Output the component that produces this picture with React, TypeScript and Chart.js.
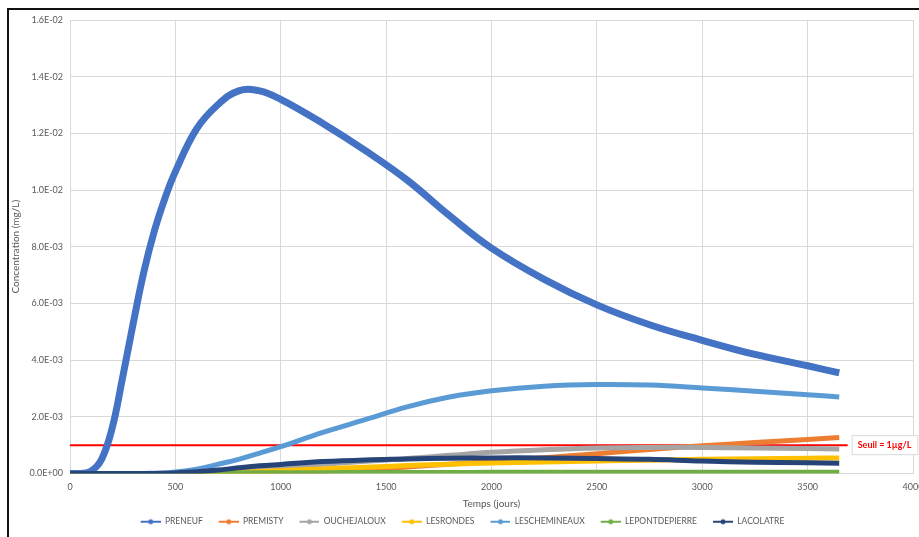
import React, { useEffect, useRef } from 'react';
import { Chart, registerables } from 'chart.js';
Chart.register(...registerables);

// Time axis (days)
const DAYS = [0, 50, 100, 150, 200, 250, 300, 350, 400, 450, 500, 600, 700, 800, 900, 1000, 1200, 1400, 1600, 1800, 2000, 2250, 2500, 2750, 3000, 3250, 3500, 3650];

// Concentrations in µg/L (i.e. ×1e-3 mg/L)
const PRENEUF = [0, 0, 0.08, 0.5, 1.6, 3.4, 5.3, 7.1, 8.55, 9.7, 10.65, 12.15, 13.0, 13.5, 13.5, 13.2, 12.35, 11.4, 10.35, 9.1, 7.95, 6.85, 5.95, 5.25, 4.7, 4.2, 3.8, 3.55];
const PREMISTY = [0, 0, 0, 0, 0, 0, 0, 0, 0, 0, 0, 0, 0.005, 0.01, 0.02, 0.03, 0.08, 0.15, 0.23, 0.33, 0.43, 0.56, 0.7, 0.85, 0.98, 1.09, 1.2, 1.27];
const OUCHEJALOUX = [0, 0, 0, 0, 0, 0, 0, 0, 0, 0, 0, 0.01, 0.04, 0.1, 0.16, 0.22, 0.33, 0.43, 0.53, 0.64, 0.75, 0.84, 0.9, 0.92, 0.92, 0.9, 0.88, 0.86];
const LESRONDES = [0, 0, 0, 0, 0, 0, 0, 0, 0, 0, 0, 0.005, 0.02, 0.04, 0.07, 0.1, 0.16, 0.22, 0.28, 0.33, 0.37, 0.41, 0.44, 0.47, 0.5, 0.52, 0.54, 0.55];
const LESCHEMINEAUX = [0, 0, 0, 0, 0, 0, 0, 0, 0.01, 0.02, 0.05, 0.15, 0.32, 0.5, 0.72, 0.95, 1.45, 1.9, 2.35, 2.7, 2.92, 3.08, 3.14, 3.12, 3.02, 2.9, 2.78, 2.7];
const LEPONTDEPIERRE = [0, 0, 0, 0, 0, 0, 0, 0, 0, 0, 0, 0.01, 0.015, 0.02, 0.025, 0.03, 0.03, 0.035, 0.035, 0.035, 0.04, 0.04, 0.04, 0.04, 0.04, 0.04, 0.04, 0.04];
const LACOLATRE = [0, 0, 0, 0, 0, 0, 0, 0, 0, 0.01, 0.02, 0.06, 0.12, 0.2, 0.27, 0.32, 0.42, 0.48, 0.51, 0.54, 0.55, 0.55, 0.53, 0.5, 0.44, 0.4, 0.38, 0.36];

const UNIT = 1e-3;
const SERIES_NAMES = ['PRENEUF', 'PREMISTY', 'OUCHEJALOUX', 'LESRONDES', 'LESCHEMINEAUX', 'LEPONTDEPIERRE', 'LACOLATRE'];
const SERIES_VALUES = [PRENEUF, PREMISTY, OUCHEJALOUX, LESRONDES, LESCHEMINEAUX, LEPONTDEPIERRE, LACOLATRE];
const SERIES_COLORS = ['#4472C4', '#ED7D31', '#A5A5A5', '#FFC000', '#5B9BD5', '#70AD47', '#264478'];
const SERIES_WIDTHS = [7, 5, 5, 5, 5, 5, 5];

const SEUIL = 1e-3;
const SEUIL_X = [0, 3690];
const SEUIL_LABEL = 'Seuil = 1µg/L';

const X_TITLE = 'Temps (jours)';
const Y_TITLE = 'Concentration (mg/L)';

const FONT = 'Lato';
const TEXT_COLOR = '#595959';
const GRID_COLOR = '#d9d9d9';

function sci(v: number): string {
  if (Math.abs(v) < 1e-12) return '0.0E+00';
  const e = Math.floor(Math.log10(Math.abs(v)) + 1e-9);
  const m = v / Math.pow(10, e);
  return m.toFixed(1) + 'E' + (e < 0 ? '-' : '+') + String(Math.abs(e)).padStart(2, '0');
}

const MARKER_W = 32;
const MARKER_LINE = 20;
function makeMarker(color: string): HTMLCanvasElement {
  const c = document.createElement('canvas');
  c.width = MARKER_W;
  c.height = 8;
  const g = c.getContext('2d')!;
  g.strokeStyle = color;
  g.lineWidth = 2;
  g.beginPath();
  g.moveTo(MARKER_W - MARKER_LINE, 4);
  g.lineTo(MARKER_W, 4);
  g.stroke();
  g.fillStyle = color;
  g.beginPath();
  g.arc(MARKER_W - MARKER_LINE / 2, 4, 2.5, 0, Math.PI * 2);
  g.fill();
  return c;
}

const seuilLabel = {
  id: 'seuilLabel',
  afterDatasetsDraw(chart: any) {
    const { ctx, scales } = chart;
    const px = scales.x.getPixelForValue(SEUIL_X[1]) + 4;
    const py = scales.y.getPixelForValue(SEUIL);
    ctx.save();
    ctx.font = `bold 9px ${FONT}`;
    const w = ctx.measureText(SEUIL_LABEL).width + 12;
    ctx.fillStyle = '#ffffff';
    ctx.fillRect(px, py - 10, w, 20);
    ctx.strokeStyle = GRID_COLOR;
    ctx.lineWidth = 1;
    ctx.strokeRect(px + 0.5, py - 9.5, w, 19);
    ctx.fillStyle = '#FF0000';
    ctx.textBaseline = 'middle';
    ctx.textAlign = 'left';
    ctx.fillText(SEUIL_LABEL, px + 6, py);
    ctx.restore();
  },
};

export default function App() {
  const ref = useRef<HTMLCanvasElement | null>(null);

  useEffect(() => {
    if (!ref.current) return;
    Chart.defaults.font.family = FONT;
    const markers = SERIES_COLORS.map(makeMarker);
    const datasets: any[] = SERIES_NAMES.map((name, i) => ({
      label: name,
      data: DAYS.map((d, k) => ({ x: d, y: SERIES_VALUES[i][k] * UNIT })),
      borderColor: SERIES_COLORS[i],
      backgroundColor: SERIES_COLORS[i],
      borderWidth: SERIES_WIDTHS[i],
      pointRadius: 0,
      tension: 0.4,
      fill: false,
      order: SERIES_NAMES.length - i,
    }));
    datasets.push({
      label: 'Seuil',
      data: SEUIL_X.map((x) => ({ x, y: SEUIL })),
      borderColor: '#FF0000',
      backgroundColor: '#FF0000',
      borderWidth: 2,
      pointRadius: 0,
      fill: false,
      order: 20,
    });

    const chart = new Chart(ref.current, {
      type: 'line',
      data: { datasets },
      plugins: [seuilLabel],
      options: {
        animation: false,
        responsive: true,
        maintainAspectRatio: false,
        layout: { padding: { top: 20, right: 22, bottom: 1, left: 0 } },
        plugins: {
          tooltip: { enabled: false },
          legend: {
            position: 'bottom',
            labels: {
              usePointStyle: true,
              pointStyleWidth: MARKER_W,
              boxHeight: 8,
              padding: 4,
              color: TEXT_COLOR,
              font: { size: 8.5, family: FONT },
              filter: (item: any) => item.text !== 'Seuil',
              sort: (a: any, b: any) => a.datasetIndex - b.datasetIndex,
              generateLabels: (c: any) => {
                const items = Chart.defaults.plugins.legend.labels.generateLabels(c);
                return items.map((it: any) => ({
                  ...it,
                  pointStyle: it.datasetIndex < markers.length ? markers[it.datasetIndex] : it.pointStyle,
                }));
              },
            },
          },
        },
        scales: {
          x: {
            type: 'linear',
            min: 0,
            max: 4000,
            afterFit: (s: any) => { s.height = 40; },
            ticks: { stepSize: 500, color: TEXT_COLOR, font: { size: 9 }, padding: 8, maxRotation: 0, autoSkip: false, callback: (v: any) => String(v) },
            grid: { color: GRID_COLOR, drawTicks: false },
            border: { color: GRID_COLOR },
            title: { display: true, text: X_TITLE, color: TEXT_COLOR, font: { size: 10 }, padding: { top: 0, bottom: 4 } },
          },
          y: {
            min: 0,
            max: 0.016,
            afterFit: (s: any) => { s.width = 70; },
            ticks: { stepSize: 0.002, color: TEXT_COLOR, font: { size: 9 }, padding: 7, callback: (v: any) => sci(Number(v)) },
            grid: { color: GRID_COLOR, drawTicks: false },
            border: { color: GRID_COLOR },
            title: { display: true, text: Y_TITLE, color: TEXT_COLOR, font: { size: 10 }, padding: { top: 10, bottom: 0 } },
          },
        },
      } as any,
    });
    return () => chart.destroy();
  }, []);

  return (
    <div style={{ position: 'fixed', left: 0, top: 0, width: 919, height: 537, overflow: 'hidden', background: '#fff' }}>
      <div style={{ position: 'absolute', left: 0, top: 0, width: 935, height: 537 }}>
        <canvas ref={ref} />
      </div>
      <div style={{ position: 'absolute', left: 7, top: 8, width: 1000, height: 1000, borderLeft: '2px solid #111', borderTop: '2px solid #111', pointerEvents: 'none' }} />
    </div>
  );
}
